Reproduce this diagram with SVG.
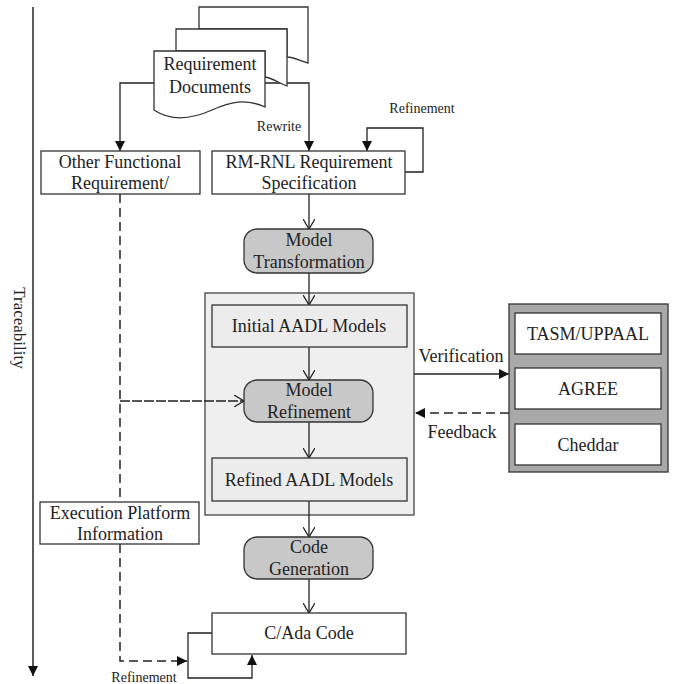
<svg xmlns="http://www.w3.org/2000/svg" width="683" height="684" viewBox="0 0 683 684">
<defs>
<style>
.t{font-family:"Liberation Serif","Times New Roman",serif;font-size:18px;fill:#222;text-anchor:middle}
.s{font-family:"Liberation Serif","Times New Roman",serif;font-size:14px;fill:#222;text-anchor:middle}
.box{fill:#fff;stroke:#333;stroke-width:1.3}
.gbox{fill:#ececec;stroke:#333;stroke-width:1.3}
.rnd{fill:#c8c8c8;stroke:#333;stroke-width:1.3}
.ln{fill:none;stroke:#222;stroke-width:1.3}
.dash{fill:none;stroke:#222;stroke-width:1.5;stroke-dasharray:9 5}
</style>
<marker id="fa" viewBox="0 0 10 10" refX="10" refY="5" markerWidth="10" markerHeight="10" markerUnits="userSpaceOnUse" orient="auto">
<path d="M0,0 L10,5 L0,10 z" fill="#111"/>
</marker>
<marker id="oa" viewBox="0 0 10 12" refX="10" refY="6" markerWidth="10" markerHeight="12" markerUnits="userSpaceOnUse" orient="auto">
<path d="M0,0 L10,6 L0,12" fill="none" stroke="#222" stroke-width="1.3"/>
</marker>
</defs>
<rect width="683" height="684" fill="#fff"/>

<g id="aadl-container">
<rect x="205" y="293" width="209" height="222" fill="#efefef" stroke="#444" stroke-width="1.3"/>
</g>

<g id="traceability">
<line x1="33" y1="7" x2="33" y2="676" stroke="#333" stroke-width="1.6" marker-end="url(#fa)"/>
<text class="t" transform="translate(14,328) rotate(90)" style="font-size:17px">Traceability</text>
</g>

<g id="connectors">
<path class="ln" d="M154,83 H120 V151" marker-end="url(#fa)"/>
<path class="ln" d="M265,83 H309 V151" marker-end="url(#fa)"/>
<path class="ln" d="M405,172 H423 V128 H367 V151" marker-end="url(#fa)"/>
<path class="ln" d="M309,194 V229" marker-end="url(#oa)"/>
<path class="ln" d="M309,273 V305" marker-end="url(#oa)"/>
<path class="ln" d="M309,347 V380" marker-end="url(#oa)"/>
<path class="ln" d="M309,422 V458" marker-end="url(#oa)"/>
<path class="ln" d="M309,501 V537" marker-end="url(#oa)"/>
<path class="ln" d="M309,579 V613" marker-end="url(#oa)"/>
<path class="ln" d="M414,374 H509" marker-end="url(#fa)"/>
<path class="dash" d="M509,413 H415" marker-end="url(#fa)"/>
<path class="dash" d="M120,194 V502"/>
<path class="ln" d="M120,401 H244" stroke-dasharray="10 2" marker-end="url(#oa)"/>
<path class="dash" d="M120,544 V661 H187" marker-end="url(#fa)"/>
<path class="ln" d="M212,633 H188 V678 H252 V655" marker-end="url(#fa)"/>
<text class="s" x="279" y="131">Rewrite</text>
<text class="s" x="422" y="113">Refinement</text>
<text class="t" x="461" y="362">Verification</text>
<text class="t" x="462" y="438">Feedback</text>
<text class="s" x="144" y="682">Refinement</text>
</g>

<g id="requirement-documents">
<path class="box" d="M199,7 H308 V63 C300,61 294,57 287,57 V29 H199 Z"/>
<path class="box" d="M176,29 H287 V86 C279,83 272,78 265,77 V51 H176 Z"/>
<path class="box" d="M154,51 H265 V107 C245,98 230,102 212,110 C192,119 172,122 154,110 Z"/>
<text class="t" x="210" y="70">Requirement</text>
<text class="t" x="210" y="93">Documents</text>
</g>

<g id="other-functional">
<rect class="box" x="41" y="151" width="159" height="43"/>
<text class="t" x="120" y="168">Other Functional</text>
<text class="t" x="120" y="189">Requirement/</text>
</g>

<g id="rm-rnl">
<rect class="box" x="212" y="151" width="193" height="43"/>
<text class="t" x="309" y="168">RM-RNL Requirement</text>
<text class="t" x="309" y="189">Specification</text>
</g>

<g id="model-transformation">
<rect class="rnd" x="244" y="229" width="129" height="44" rx="13"/>
<text class="t" x="309" y="246">Model</text>
<text class="t" x="309" y="268">Transformation</text>
</g>

<g id="initial-aadl">
<rect class="gbox" x="212" y="305" width="195" height="42"/>
<text class="t" x="309" y="332">Initial AADL Models</text>
</g>

<g id="model-refinement">
<rect class="rnd" x="244" y="380" width="129" height="42" rx="13"/>
<text class="t" x="309" y="396">Model</text>
<text class="t" x="309" y="418">Refinement</text>
</g>

<g id="refined-aadl">
<rect class="gbox" x="212" y="458" width="195" height="43"/>
<text class="t" x="309" y="486">Refined AADL Models</text>
</g>

<g id="verification-tools">
<rect x="509" y="304" width="159" height="168" fill="#a8a8a8" stroke="#333" stroke-width="1.3"/>
<g id="tasm">
<rect class="box" x="515" y="313" width="146" height="41"/>
<text class="t" x="588" y="340">TASM/UPPAAL</text>
</g>
<g id="agree">
<rect class="box" x="515" y="368" width="146" height="41"/>
<text class="t" x="588" y="395">AGREE</text>
</g>
<g id="cheddar">
<rect class="box" x="515" y="424" width="146" height="41"/>
<text class="t" x="588" y="451">Cheddar</text>
</g>
</g>

<g id="execution-platform">
<rect class="box" x="40" y="502" width="159" height="42"/>
<text class="t" x="120" y="519">Execution Platform</text>
<text class="t" x="120" y="540">Information</text>
</g>

<g id="code-generation">
<rect class="rnd" x="244" y="537" width="129" height="42" rx="13"/>
<text class="t" x="309" y="553">Code</text>
<text class="t" x="309" y="575">Generation</text>
</g>

<g id="c-ada-code">
<rect class="box" x="212" y="613" width="194" height="41"/>
<text class="t" x="309" y="639">C/Ada Code</text>
</g>
</svg>
